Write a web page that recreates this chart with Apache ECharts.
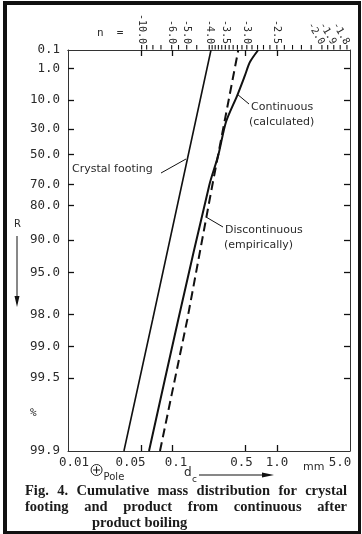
<!DOCTYPE html>
<html><head><meta charset="utf-8">
<script src="https://cdn.jsdelivr.net/npm/echarts@6/dist/echarts.min.js"></script>
<style>
html,body{margin:0;padding:0;background:#fff;}
#frame{position:absolute;left:3px;top:1px;width:358px;height:533px;box-sizing:border-box;border:4px solid #111;border-right-width:3px;border-bottom-width:3px;}
#chart{position:absolute;left:0;top:0;width:362px;height:534px;}
.cap{position:absolute;font-family:'Liberation Serif','Times New Roman',serif;font-weight:bold;font-size:14.5px;line-height:16px;color:#1a1a1a;}
.j{left:25px;width:322px;text-align:justify;text-align-last:justify;}
</style></head><body>
<div id="frame"></div>
<div id="chart"></div>
<div class="cap j" style="top:482px">Fig. 4. Cumulative mass distribution for crystal</div>
<div class="cap j" style="top:498px">footing and product from continuous after</div>
<div class="cap" style="top:514px;left:92px">product boiling</div>
<script>
// ---- data ----
const crystalD = [0.0343, 0.0646, 0.2336];
const crystalR = [99.9, 98.2, 0.1];
const contD = [0.0596, 0.1136, 0.225, 0.2744, 0.325, 0.417, 0.494, 0.551, 0.662];
const contR = [99.9, 98.2, 70.4, 50.7, 24.3, 7.84, 1.92, 0.50, 0.1];
const discD = [0.0759, 0.1386, 0.2457, 0.4264];
const discR = [99.9, 98.2, 67.6, 0.1];
const yTickR = [0.1, 1.0, 10.0, 30.0, 50.0, 70.0, 80.0, 90.0, 95.0, 98.0, 99.0, 99.5, 99.9];
const xTickD = [0.01, 0.05, 0.1, 0.5, 1.0, 5.0];
const xTickLabels = ['0.01', '0.05', '0.1', '0.5', '1.0', '5.0'];
const nLabels = [10.0, 6.0, 5.0, 4.0, 3.5, 3.0, 2.5];
const nLabelsSlant = [2.0, 1.9, 1.8];
const nMinor = [9, 8, 7, 5.5, 4.5, 3.9, 3.8, 3.7, 3.6, 3.4, 3.3, 3.2, 3.1, 2.9, 2.8, 2.7, 2.6, 2.4, 2.3, 2.2, 2.1, 1.95, 1.85];
const poleD = 0.01877;

// ---- scales (Rosin-Rammler net) ----
const fR = R => Math.log(Math.log(100 / R));
const rF = f => 100 * Math.exp(-Math.exp(f));
const lx = d => Math.log10(d);
const K = 4.3134; // n-scale constant (decades per unit 1/n)
const nPos = n => lx(poleD) + K / n;
const nFromPos = v => K / (v - lx(poleD));

const X0 = lx(0.01), X1 = lx(5.0);
const Y0 = fR(99.9), Y1 = fR(0.1);
const GRID = {left: 68, right: 12, top: 50, bottom: 83};
const GW = 362 - GRID.left - GRID.right, GH = 534 - GRID.top - GRID.bottom;
const dxT = 6 * (X1 - X0) / GW;   // 6 px tick length in data units
const dyT = 6 * (Y1 - Y0) / GH;
const MONO = "'DejaVu Sans Mono', monospace";
const SANS = "'DejaVu Sans', sans-serif";
const TXT = '#2a2a2a';
const LINE = '#333';

// frame ticks as data-space segments (drawn through the chart's scales)
const seg = (a, b) => [{coord: a}, {coord: b}];
const tickSegs = [];
yTickR.slice(1, -1).forEach(r => { const y = fR(r); tickSegs.push(seg([X0, y], [X0 + dxT, y]), seg([X1 - dxT, y], [X1, y])); });
xTickD.slice(1, -1).forEach(d => { const x = lx(d); tickSegs.push(seg([x, Y0], [x, Y0 + dyT]), seg([x, Y1 - dyT], [x, Y1])); });

const chart = echarts.init(document.getElementById('chart'));
const toPts = (D, R) => D.map((d, i) => [lx(d), fR(R[i])]);
const base = () => ({axisLine: {show: true, onZero: false, lineStyle: {color: LINE, width: 1}}, splitLine: {show: false}, axisTick: {show: false}});

const option = {
  animation: false,
  grid: Object.assign({show: false}, GRID),
  xAxis: [
    Object.assign(base(), {type: 'value', position: 'bottom', min: X0, max: X1,
      axisLabel: {show: true, customValues: xTickD.map(lx), margin: 5, fontFamily: MONO, fontSize: 12.5, color: TXT,
        formatter: v => { const i = xTickD.findIndex(d => Math.abs(lx(d) - v) < 1e-6); return '{l' + i + '|' + xTickLabels[i] + '}'; },
        rich: {l0: {padding: [0, 0, 0, 12]}, l1: {padding: [0, 21, 0, 0]}, l2: {padding: [0, 0, 0, 7]}, l3: {padding: [0, 8, 0, 0]}, l4: {}, l5: {padding: [0, 20, 0, 0]}}}
    }),
    Object.assign(base(), {type: 'value', position: 'top', min: X0, max: X1,
      axisLabel: {show: true, rotate: 90, customValues: nLabels.map(nPos), margin: 6, fontFamily: MONO, fontSize: 10, color: TXT,
        formatter: v => '-' + nFromPos(v).toFixed(1)}}),
    Object.assign(base(), {type: 'value', position: 'top', min: X0, max: X1,
      axisLabel: {show: true, rotate: 60, customValues: nLabelsSlant.map(nPos), margin: 6, fontFamily: MONO, fontSize: 10, color: TXT,
        formatter: v => '-' + nFromPos(v).toFixed(1)}})
  ],
  yAxis: [
    Object.assign(base(), {type: 'value', position: 'left', min: Y0, max: Y1,
      axisLabel: {show: true, customValues: yTickR.map(fR), margin: 8, fontFamily: MONO, fontSize: 12.5, color: TXT,
        formatter: v => rF(v).toFixed(1)}}),
    Object.assign(base(), {type: 'value', position: 'right', min: Y0, max: Y1, axisLabel: {show: false}})
  ],
  series: [
    {name: 'Crystal footing', type: 'line', data: toPts(crystalD, crystalR), showSymbol: false, clip: false,
      lineStyle: {color: '#111', width: 1.6},
      markLine: {silent: true, symbol: ['none', 'none'], label: {show: false}, emphasis: {disabled: true},
        lineStyle: {color: '#111', width: 1.3, type: 'solid'}, data: tickSegs}},
    {name: 'Continuous (calculated)', type: 'line', data: toPts(contD, contR), showSymbol: false, smooth: 0.25,
      lineStyle: {color: '#111', width: 2}},
    {name: 'Discontinuous (empirically)', type: 'line', data: toPts(discD, discR), showSymbol: false,
      lineStyle: {color: '#111', width: 2, type: [9, 5]}}
  ]
};
chart.setOption(option);

// n-scale ticks above the frame and the pole, positioned through the x axis
const toX = v => chart.convertToPixel({xAxisIndex: 0}, v);
const ln = (x1, y1, x2, y2, w) => ({type: 'line', shape: {x1: x1, y1: y1, x2: x2, y2: y2}, style: {stroke: '#111', lineWidth: w || 1}});
const nTicks = nLabels.concat(nLabelsSlant, nMinor).map(n => { const x = toX(nPos(n)); return ln(x, GRID.top - 0.5, x, GRID.top - 5, 1.1); });

const px = toX(lx(poleD));
const t = (x, y, text, size, font) => ({type: 'text', x: x, y: y,
  style: {text: text, font: (size || 11) + 'px ' + (font || SANS), fill: TXT, align: 'left', verticalAlign: 'middle'}});
chart.setOption({graphic: nTicks.concat([
  t(97, 33, 'n  =', 11, MONO),
  t(72, 169, 'Crystal footing', 11),
  ln(161, 173, 186, 159),
  t(251, 107, 'Continuous', 11),
  t(249, 122, '(calculated)', 11),
  ln(237, 94, 249, 104),
  t(225, 230, 'Discontinuous', 11),
  t(224, 245, '(empirically)', 11),
  ln(206, 217, 223, 227),
  t(14, 224, 'R', 10),
  ln(17, 236, 17, 298),
  {type: 'polygon', shape: {points: [[14.5, 296], [19.5, 296], [17, 307]]}, style: {fill: '#111'}},
  t(30, 413, '%', 11, MONO),
  t(303, 467, 'mm', 11),
  {type: 'circle', shape: {cx: px, cy: 470, r: 5.5}, style: {fill: 'none', stroke: '#222', lineWidth: 1}},
  ln(px - 3.5, 470, px + 3.5, 470),
  ln(px, 466.5, px, 473.5),
  t(px + 7, 477, 'Pole', 10),
  t(184, 473, 'd', 12),
  t(192, 480, 'c', 9),
  ln(199, 475, 265, 475, 1.2),
  {type: 'polygon', shape: {points: [[262, 472.5], [262, 477.5], [274, 475]]}, style: {fill: '#111'}}
])});
</script>
</body></html>
